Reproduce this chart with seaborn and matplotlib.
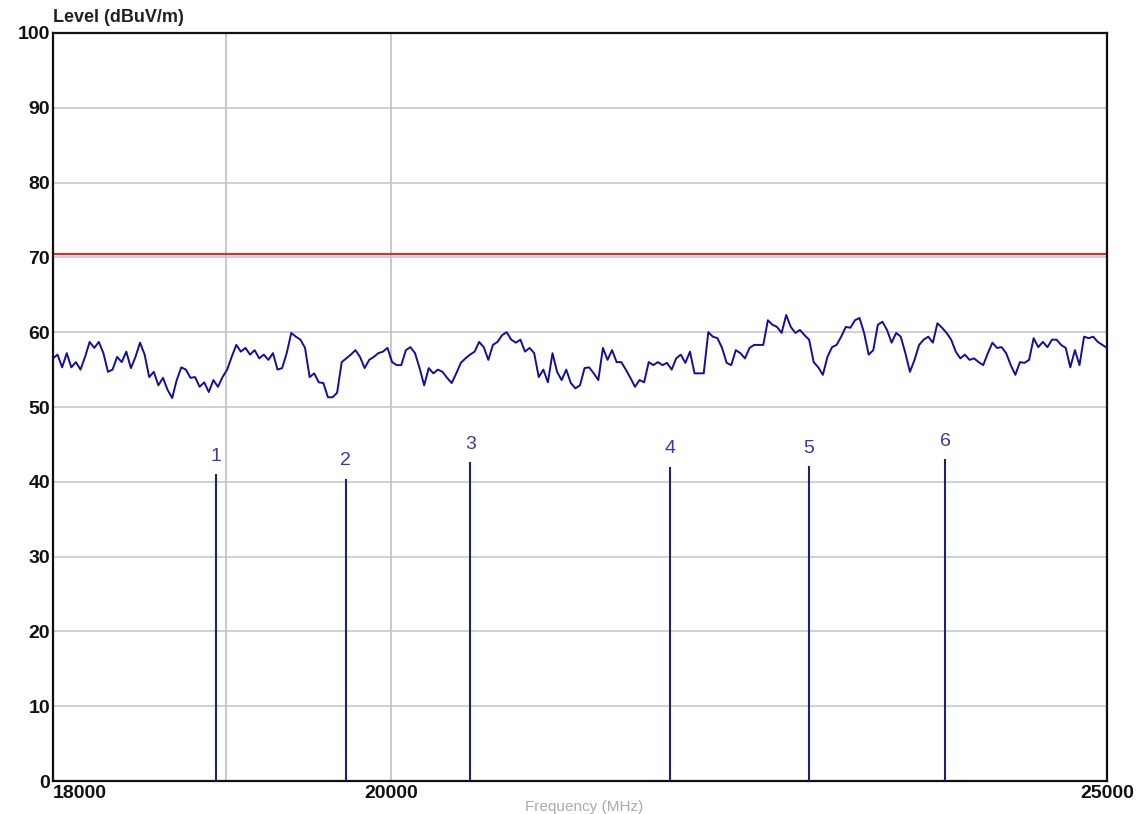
import matplotlib
matplotlib.use("Agg")
import matplotlib.pyplot as plt
import seaborn as sns
import numpy as np

# measured level trace (dBuV/m), sweep points log-spaced 18000..25000
level = [
    56.5, 57.0, 55.3, 57.2, 55.3, 56.0, 55.0, 56.7, 58.7, 57.9, 58.7, 57.2, 54.7, 55.0, 56.7,
    56.0, 57.4, 55.2, 56.7, 58.6, 57.0, 54.0, 54.7, 52.9, 53.9, 52.3, 51.2, 53.6, 55.3, 55.0,
    53.9, 54.0, 52.7, 53.3, 52.0, 53.6, 52.7, 54.0, 55.0, 56.7, 58.3, 57.4, 57.9, 57.0, 57.6,
    56.5, 57.0, 56.3, 57.2, 55.0, 55.2, 57.2, 59.9, 59.4, 59.0, 57.9, 54.0, 54.5, 53.3, 53.2,
    51.3,
    51.3, 51.9, 56.0, 56.5, 57.0, 57.6, 56.7, 55.2, 56.3, 56.7, 57.2, 57.4, 57.9, 56.0, 55.6,
    55.6, 57.6, 58.0, 57.2, 55.2, 52.9, 55.2, 54.5, 55.0, 54.7, 53.9, 53.2, 54.5, 55.9, 56.5,
    57.0, 57.4, 58.7, 58.0, 56.3, 58.3, 58.7, 59.6, 60.0, 59.0, 58.6, 59.0, 57.4, 57.9, 57.2,
    54.0, 55.0, 53.3, 57.2, 54.7, 53.6, 55.0, 53.2, 52.5, 52.9,
    55.2, 55.3, 54.5, 53.6, 57.9, 56.3, 57.6, 56.0, 56.0, 55.0, 53.9, 52.7, 53.6, 53.3, 56.0,
    55.6, 56.0, 55.6, 55.9, 55.0, 56.5, 57.0, 55.9, 57.4, 54.5, 54.5, 54.5, 60.0, 59.4, 59.2,
    57.9, 55.9, 55.6, 57.6, 57.2, 56.5, 57.9, 58.3, 58.3, 58.3, 61.6, 61.0, 60.7, 59.9, 62.3,
    60.7, 59.9, 60.3, 59.6, 59.0, 56.0, 55.3, 54.3, 56.7, 58.0,
    58.3, 59.4, 60.7, 60.6, 61.6, 61.9, 59.9, 57.0, 57.6, 61.0, 61.4, 60.3, 58.6, 59.9, 59.4,
    57.2, 54.7, 56.3, 58.3, 59.0, 59.4, 58.6, 61.2, 60.6, 59.9, 59.0, 57.4, 56.5, 57.0, 56.3,
    56.5, 56.0, 55.6, 57.2, 58.6, 57.9, 58.0, 57.2, 55.6, 54.3, 56.0, 55.9, 56.3, 59.2, 58.0,
    58.7, 58.0, 59.0, 59.0, 58.3, 57.9, 55.3, 57.6, 55.6, 59.4, 59.2, 59.4, 58.7, 58.3, 57.9,
]
f_start, f_stop = 18000, 25000

# limit line
limit_level = 70.5

# peak markers
marker_ids = ["1", "2", "3", "4", "5", "6"]
marker_freq = [18940, 19720, 20500, 21820, 22780, 23770]
marker_level = [41.0, 40.4, 42.6, 42.0, 42.1, 43.0]

xticks = [18000, 20000, 25000]
xgrid = [19000, 20000]
yticks = list(range(0, 101, 10))

sns.set_style("white")
plt.rcParams["font.family"] = ["Liberation Sans", "DejaVu Sans"]

freq = np.geomspace(f_start, f_stop, len(level))

fig = plt.figure(figsize=(11.37, 8.14), dpi=100)
ax = fig.add_axes([0.0466, 0.0405, 0.927, 0.919])
ax.set_xscale("log")
ax.set_xlim(f_start, f_stop)
ax.set_ylim(0, 100)

# grid
for yv in yticks[1:-1]:
    ax.axhline(yv, color="#c8c8c8", lw=1.2, zorder=0)
for xv in xgrid:
    ax.axvline(xv, color="#c0c0c0", lw=1.2, zorder=0)

ax.axhline(limit_level, color="#c23a3a", lw=1.6, zorder=2)

sns.lineplot(x=freq, y=level, ax=ax, color="#10109a", lw=1.4, zorder=3)

ax.vlines(marker_freq, 0, marker_level, color="#1c2470", lw=1.5, zorder=3)
for mid, mf, ml in zip(marker_ids, marker_freq, marker_level):
    ax.text(mf, ml + 2.4, mid, ha="center", va="center", fontsize=14,
            color="#3a3aa6")

ax.xaxis.set_minor_locator(matplotlib.ticker.NullLocator())
ax.set_xticks(xticks)
ax.set_xticklabels([str(v) for v in xticks], fontsize=14, fontweight="bold",
                   color="#111111")
labs = ax.get_xticklabels()
labs[0].set_ha("left")
ax.set_yticks(yticks)
ax.set_yticklabels([str(v) for v in yticks], fontsize=14, fontweight="bold",
                   color="#111111")
ax.tick_params(axis="both", length=0, pad=3)
ax.tick_params(axis="y", pad=2)

for s in ax.spines.values():
    s.set_color("#111111")
    s.set_linewidth(1.6)

fig.text(53 / 1137, 1 - 17 / 814, "Level (dBuV/m)", ha="left", va="center",
         fontsize=13, fontweight="bold", color="#222222")
fig.text(584 / 1137, 7 / 814, "Frequency (MHz)", ha="center", va="center",
         fontsize=11, color="#aaaaaa")

fig.savefig("out.png", dpi=100)
